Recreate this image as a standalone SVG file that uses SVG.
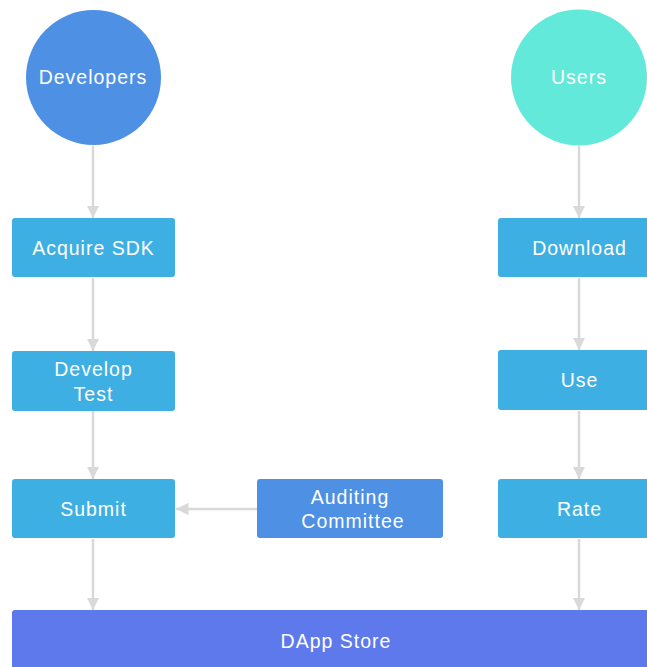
<svg xmlns="http://www.w3.org/2000/svg" width="647" height="667" viewBox="0 0 647 667">
<style>
text{font-family:"Liberation Sans",Arial,sans-serif;font-size:19.5px;fill:#fff;text-anchor:middle;letter-spacing:1px}
.box{fill:#3eafe2}
.conn{stroke:#d9d9d9;stroke-width:2.5;fill:none;marker-end:url(#arr)}
</style>
<defs>
<marker id="arr" viewBox="0 0 10 10" refX="10" refY="5" markerWidth="5" markerHeight="5" markerUnits="strokeWidth" orient="auto">
<path d="M0,0 L10,5 L0,10 z" fill="#d9d9d9"/>
</marker>
</defs>
<rect width="647" height="667" fill="#fff"/>
<g id="connectors">
<line class="conn" x1="93" y1="146" x2="93" y2="218"/>
<line class="conn" x1="93" y1="278" x2="93" y2="351"/>
<line class="conn" x1="93" y1="411" x2="93" y2="479"/>
<line class="conn" x1="93" y1="539" x2="93" y2="610"/>
<line class="conn" x1="579" y1="146" x2="579" y2="218"/>
<line class="conn" x1="579" y1="278" x2="579" y2="350"/>
<line class="conn" x1="579" y1="411" x2="579" y2="479"/>
<line class="conn" x1="579" y1="539" x2="579" y2="610"/>
<line class="conn" x1="257" y1="509" x2="176" y2="509"/>
</g>
<g id="developers"><circle cx="93.5" cy="77.5" r="67.5" fill="#4e90e4"/><text x="93" y="84">Developers</text></g>
<g id="users"><circle cx="579" cy="77.5" r="68" fill="#62e9d9"/><text x="579" y="84">Users</text></g>
<g id="acquire"><rect class="box" x="12" y="218" width="163" height="59" rx="3"/><text x="93.5" y="254.5">Acquire SDK</text></g>
<g id="develop"><rect class="box" x="12" y="351" width="163" height="60" rx="3"/><text x="93.5" y="376">Develop</text><text x="93.5" y="401">Test</text></g>
<g id="submit"><rect class="box" x="12" y="479" width="163" height="59" rx="3"/><text x="93.5" y="515.5">Submit</text></g>
<g id="auditing"><rect x="257" y="479" width="186" height="59" rx="3" fill="#4e90e4"/><text x="350" y="504">Auditing</text><text x="353" y="528">Committee</text></g>
<g id="download"><rect class="box" x="498" y="218" width="163" height="59" rx="3"/><text x="579.5" y="254.5">Download</text></g>
<g id="use"><rect class="box" x="498" y="350" width="163" height="60" rx="3"/><text x="579.5" y="386.5">Use</text></g>
<g id="rate"><rect class="box" x="498" y="479" width="163" height="59" rx="3"/><text x="579.5" y="515.5">Rate</text></g>
<g id="dapp"><rect x="12" y="610" width="660" height="70" rx="3" fill="#5e79eb"/><text x="336" y="647.5">DApp Store</text></g>
</svg>
